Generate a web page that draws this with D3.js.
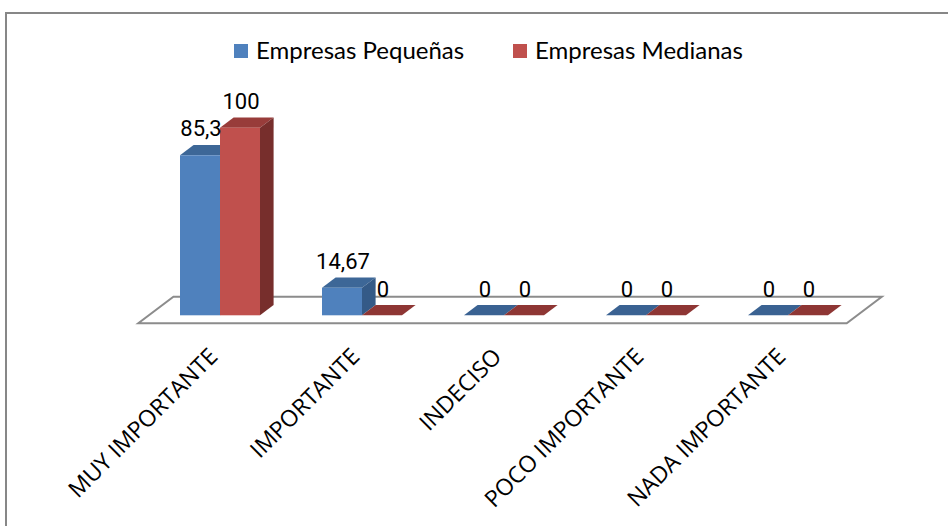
<!DOCTYPE html>
<html>
<head>
<meta charset="utf-8">
<script src="https://cdn.jsdelivr.net/npm/d3@7"></script>
<style>
  html, body { margin: 0; padding: 0; background: #fff; }
  svg { display: block; }
</style>
</head>
<body>
<svg id="chart" width="948" height="526"></svg>
<script>
// Categories and series
const categories = ["MUY IMPORTANTE", "IMPORTANTE", "INDECISO", "POCO IMPORTANTE", "NADA IMPORTANTE"];
const seriesNames = ["Empresas Pequeñas", "Empresas Medianas"];
const pequenas = [85.3, 14.67, 0, 0, 0];
const medianas = [100, 0, 0, 0, 0];

const colors = [
  { front: "#4F81BD", top: "#3D6797", side: "#345A87", flat: "#3A6292" },
  { front: "#C0504D", top: "#983C3A", side: "#772E2C", flat: "#8E3634" }
];

const svg = d3.select("#chart");

// Outer frame
svg.append("rect")
  .attr("x", 6).attr("y", 13)
  .attr("width", 980).attr("height", 600)
  .attr("fill", "none").attr("stroke", "#878787").attr("stroke-width", 2);

// Oblique projection: depth goes up and to the right
const depthDX = 1.32, depthDY = -1;
const floorFrontY = 323.3;
const floorDepth = 26.6;
const barDepthStart = 8;
const barDepth = 10.3;
const baseY = floorFrontY - barDepthStart;   // front plane of the bars

// Category scale on the bars' front plane
const x = d3.scaleBand().domain(categories).range([149, 859]);
const barW = 40;
const y = d3.scaleLinear().domain([0, 100]).range([baseY, 127.7]);

// Floor
const fl = 138.3, fr = 846.7;
const floorPts = [
  [fl, floorFrontY], [fr, floorFrontY],
  [fr + floorDepth * depthDX, floorFrontY + floorDepth * depthDY],
  [fl + floorDepth * depthDX, floorFrontY + floorDepth * depthDY]
];
svg.append("polygon")
  .attr("points", floorPts.map(p => p.join(",")).join(" "))
  .attr("fill", "#fff").attr("stroke", "#8C8C8C").attr("stroke-width", 2)
  .attr("stroke-linejoin", "miter");

const ddx = barDepth * depthDX, ddy = barDepth * depthDY;

const rows = [];
categories.forEach((c, i) => {
  [pequenas[i], medianas[i]].forEach((v, s) => {
    rows.push({ cat: c, s, v, x0: x(c) + x.bandwidth() / 2 - barW + s * barW });
  });
});

const bars = svg.append("g").selectAll("g").data(rows).join("g");

bars.each(function (d) {
  const g = d3.select(this);
  const col = colors[d.s];
  const x0 = d.x0, x1 = d.x0 + barW;
  const yt = y(d.v), yb = y(0);
  const poly = pts => pts.map(p => p.join(",")).join(" ");
  // top face
  g.append("polygon")
    .attr("points", poly([[x0, yt], [x1, yt], [x1 + ddx, yt + ddy], [x0 + ddx, yt + ddy]]))
    .attr("fill", d.v === 0 ? col.flat : col.top);
  if (d.v > 0) {
    // side face
    g.append("polygon")
      .attr("points", poly([[x1, yt], [x1 + ddx, yt + ddy], [x1 + ddx, yb + ddy], [x1, yb]]))
      .attr("fill", col.side);
    // front face
    g.append("rect")
      .attr("x", x0).attr("y", yt)
      .attr("width", barW).attr("height", yb - yt)
      .attr("fill", col.front);
  }
});

// Value labels
const fmt = v => String(v).replace(".", ",");
svg.append("g").selectAll("text").data(rows).join("text")
  .attr("x", d => d.x0 + barW / 2 + 1)
  .attr("y", d => y(d.v) + ddy - 8.5)
  .attr("text-anchor", "middle")
  .attr("font-family", "Roboto, sans-serif")
  .attr("font-weight", 400)
  .attr("font-size", 22)
  .attr("fill", "#000")
  .text(d => fmt(d.v));

// Category labels, rotated
svg.append("g").selectAll("text").data(categories).join("text")
  .attr("transform", d => `translate(${x(d) + x.bandwidth() / 2 - 1},358) rotate(-45)`)
  .attr("text-anchor", "end")
  .attr("font-family", "'Open Sans', sans-serif")
  .attr("font-size", 23)
  .attr("fill", "#000")
  .text(d => d);

// Legend
const legendX = [234, 513];
const legend = svg.append("g").selectAll("g").data(seriesNames).join("g")
  .attr("transform", (d, i) => `translate(${legendX[i]},0)`);
legend.append("rect")
  .attr("x", 0).attr("y", 44).attr("width", 14).attr("height", 14)
  .attr("fill", (d, i) => colors[i].front);
legend.append("text")
  .attr("x", 22).attr("y", 59)
  .attr("font-family", "Lato, sans-serif")
  .attr("font-size", 24)
  .attr("fill", "#000")
  .text(d => d);
</script>
</body>
</html>
